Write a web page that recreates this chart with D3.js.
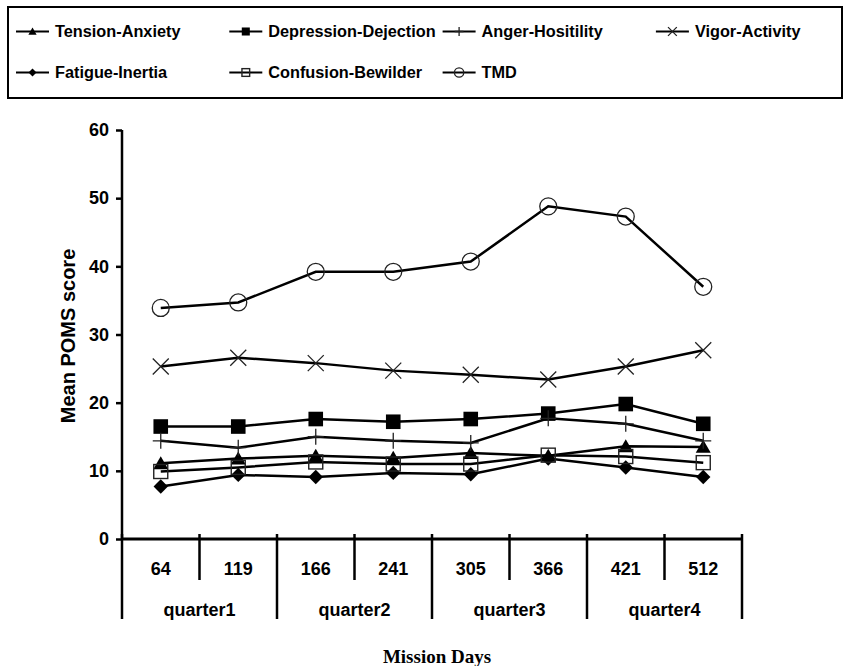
<!DOCTYPE html>
<html>
<head>
<meta charset="utf-8">
<script src="https://cdn.jsdelivr.net/npm/d3@7"></script>
<style>
  html, body { margin: 0; padding: 0; background: #fff; }
  svg { display: block; font-family: "Liberation Sans", Arial, sans-serif; }
  text { font-weight: bold; fill: #000; }
</style>
</head>
<body>
<svg id="chart" width="847" height="666"></svg>
<script>
// ---- data ----
const days = ["64", "119", "166", "241", "305", "366", "421", "512"];
const quarters = ["quarter1", "quarter2", "quarter3", "quarter4"];
const yTicks = [0, 10, 20, 30, 40, 50, 60];

const tensionAnxiety     = [11.1, 11.8, 12.2, 11.9, 12.6, 12.2, 13.6, 13.5];
const depressionDejection = [16.5, 16.5, 17.6, 17.2, 17.6, 18.4, 19.8, 16.9];
const angerHostility     = [14.4, 13.4, 15.0, 14.4, 14.1, 17.7, 16.9, 14.4];
const vigorActivity      = [25.3, 26.6, 25.8, 24.7, 24.1, 23.4, 25.3, 27.7];
const fatigueInertia     = [7.7, 9.4, 9.1, 9.7, 9.5, 11.8, 10.5, 9.1];
const confusionBewilder  = [9.9, 10.5, 11.3, 11.0, 11.0, 12.3, 12.1, 11.2];
const tmd                = [33.9, 34.7, 39.2, 39.2, 40.7, 48.8, 47.3, 37.0];

const seriesNames = ["Tension-Anxiety", "Depression-Dejection", "Anger-Hositility", "Vigor-Activity",
                     "Fatigue-Inertia", "Confusion-Bewilder", "TMD"];
const seriesValues = [tensionAnxiety, depressionDejection, angerHostility, vigorActivity,
                      fatigueInertia, confusionBewilder, tmd];
const seriesMarkers = ["triangle", "square", "plus", "x", "diamond", "opensquare", "circle"];

(function () {
const svg = d3.select("#chart");
const plotLeft = 122, plotRight = 742, plotTop = 130, plotBottom = 539;

const x = d3.scaleBand().domain(days).range([plotLeft, plotRight]).padding(0);
const y = d3.scaleLinear().domain([0, 60]).range([plotBottom, plotTop]);

function marker(g, type, cx, cy, s) {
  if (type === "triangle") {
    const w = 7.5 * s, h = 13 * s;
    g.append("path").attr("d", `M${cx},${cy - h * 0.55}L${cx + w},${cy + h * 0.45}L${cx - w},${cy + h * 0.45}Z`)
      .attr("fill", "#000");
  } else if (type === "square") {
    const h = 7.3 * s;
    g.append("rect").attr("x", cx - h).attr("y", cy - h).attr("width", 2 * h).attr("height", 2 * h).attr("fill", "#000");
  } else if (type === "opensquare") {
    const h = 7 * s;
    g.append("rect").attr("x", cx - h).attr("y", cy - h).attr("width", 2 * h).attr("height", 2 * h)
      .attr("fill", "none").attr("stroke", "#222").attr("stroke-width", 1.4);
  } else if (type === "diamond") {
    const h = 7.2 * s;
    g.append("path").attr("d", `M${cx},${cy - h}L${cx + h},${cy}L${cx},${cy + h}L${cx - h},${cy}Z`).attr("fill", "#000");
  } else if (type === "plus") {
    const h = 8 * s;
    g.append("path").attr("d", `M${cx - h},${cy}L${cx + h},${cy}M${cx},${cy - h}L${cx},${cy + h}`)
      .attr("stroke", "#222").attr("stroke-width", 1.3).attr("fill", "none");
  } else if (type === "x") {
    const h = 8 * s;
    g.append("path").attr("d", `M${cx - h},${cy - h}L${cx + h},${cy + h}M${cx - h},${cy + h}L${cx + h},${cy - h}`)
      .attr("stroke", "#222").attr("stroke-width", 1.3).attr("fill", "none");
  } else if (type === "circle") {
    g.append("circle").attr("cx", cx).attr("cy", cy).attr("r", 8.5 * s)
      .attr("fill", "none").attr("stroke", "#222").attr("stroke-width", 1.3);
  }
}

// ---- legend ----
svg.append("rect").attr("x", 8).attr("y", 7).attr("width", 834).attr("height", 91)
  .attr("fill", "none").attr("stroke", "#000").attr("stroke-width", 2);

const legend = svg.append("g");
seriesNames.forEach((name, i) => {
  const col = i % 4, row = Math.floor(i / 4);
  const lx = 16 + col * 213.3;
  const ly = 31.5 + row * 41;
  const g = legend.append("g");
  g.append("line").attr("x1", lx).attr("x2", lx + 33).attr("y1", ly).attr("y2", ly)
    .attr("stroke", "#000").attr("stroke-width", 2);
  marker(g, seriesMarkers[i], lx + 16.5, ly, 0.55);
  g.append("text").attr("x", lx + 39).attr("y", ly + 5.8).attr("font-size", 16.3).text(name);
});

// ---- y axis ----
const yAxis = svg.append("g").attr("transform", `translate(${plotLeft},0)`)
  .call(d3.axisLeft(y).tickValues(yTicks).tickSize(6).tickPadding(7).tickFormat(d3.format("d")));
yAxis.select(".domain").attr("stroke", "#000").attr("stroke-width", 2.5).attr("d", `M0,${plotTop}V${plotBottom}`);
yAxis.selectAll(".tick line").attr("stroke", "#000").attr("stroke-width", 2.5);
yAxis.selectAll(".tick text").attr("font-size", 18).attr("font-family", "Liberation Sans, Arial, sans-serif")
  .attr("font-weight", "bold").attr("fill", "#000");

svg.append("text").attr("transform", `translate(75,336) rotate(-90)`)
  .attr("text-anchor", "middle").attr("font-size", 20).text("Mean POMS score");

// ---- x axis (grouped categories) ----
const xg = svg.append("g");
xg.append("line").attr("x1", plotLeft).attr("x2", plotRight).attr("y1", plotBottom).attr("y2", plotBottom)
  .attr("stroke", "#000").attr("stroke-width", 3);
const bw = x.bandwidth();
const boundaries = days.map(d => x(d)).concat([plotRight]);
boundaries.forEach((bx, i) => {
  const major = i % 2 === 0;
  xg.append("line").attr("x1", bx).attr("x2", bx).attr("y1", plotBottom - 5).attr("y2", major ? 619 : 580)
    .attr("stroke", "#000").attr("stroke-width", 2.5);
});
xg.selectAll("text.day").data(days).enter().append("text").attr("class", "day")
  .attr("x", d => x(d) + bw / 2).attr("y", 574.5).attr("text-anchor", "middle").attr("font-size", 18).text(d => d);
xg.selectAll("text.q").data(quarters).enter().append("text").attr("class", "q")
  .attr("x", (d, i) => x(days[i * 2]) + bw).attr("y", 615.5).attr("text-anchor", "middle").attr("font-size", 18).text(d => d);

svg.append("text").attr("x", 437).attr("y", 663).attr("text-anchor", "middle")
  .attr("font-family", "'Liberation Serif', 'Times New Roman', serif").attr("font-size", 19).text("Mission Days");

// ---- series ----
const line = d3.line().x((d, i) => x(days[i]) + bw / 2).y(d => y(d));
const plot = svg.append("g");
seriesValues.forEach((vals) => {
  plot.append("path").attr("d", line(vals)).attr("fill", "none").attr("stroke", "#000").attr("stroke-width", 2.5);
});
seriesValues.forEach((vals, si) => {
  const g = plot.append("g");
  vals.forEach((v, i) => marker(g, seriesMarkers[si], x(days[i]) + bw / 2, y(v), 1));
});
})();
</script>
</body>
</html>
